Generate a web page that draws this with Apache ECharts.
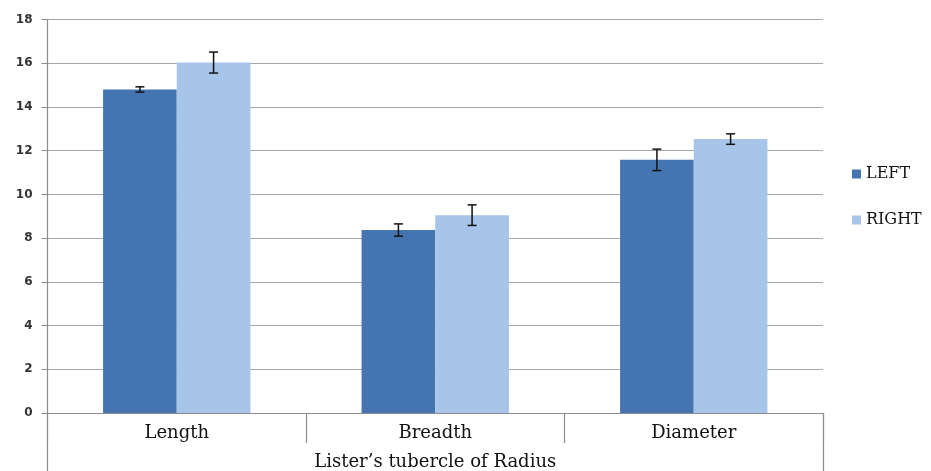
<!DOCTYPE html>
<html><head><meta charset="utf-8">
<script src="https://cdn.jsdelivr.net/npm/echarts@6/dist/echarts.min.js"></script>
<style>html,body{margin:0;padding:0;background:#fff}#c{width:931px;height:471px}</style>
</head><body><div id="c"></div>
<script>
const categories = ['Length', 'Breadth', 'Diameter'];
const groupLabel = ['Lister\u2019s tubercle of Radius'];
const leftValues = [14.8, 8.37, 11.58];
const rightValues = [16.03, 9.05, 12.53];
const leftErr = [0.12, 0.28, 0.49];
const rightErr = [0.48, 0.47, 0.24];
const yTicks = { min: 0, max: 18, interval: 2 };

const chart = echarts.init(document.getElementById('c'));
const catGap = 0.43;
function errSeries(name, vals, errs, side) {
  return {
    type: 'custom', name: name + '_err', xAxisIndex: 0, yAxisIndex: 0, z: 10,
    silent: true,
    data: vals.map((v, i) => [i, v - errs[i], v + errs[i]]),
    renderItem: function (params, api) {
      const bw = api.size([1, 0])[0];
      const barW = bw * (1 - catGap) / 2;
      const c0 = api.coord([api.value(0), api.value(1)]);
      const c1 = api.coord([api.value(0), api.value(2)]);
      const x = c0[0] + side * barW / 2;
      const hw = 4.5;
      const st = { stroke: '#111', lineWidth: 1.5 };
      return { type: 'group', children: [
        { type: 'line', shape: { x1: x, y1: c0[1], x2: x, y2: c1[1] }, style: st },
        { type: 'line', shape: { x1: x - hw, y1: c0[1], x2: x + hw, y2: c0[1] }, style: st },
        { type: 'line', shape: { x1: x - hw, y1: c1[1], x2: x + hw, y2: c1[1] }, style: st }
      ]};
    }
  };
}
const serif = '"DejaVu Serif", "Liberation Serif", serif';
chart.setOption({
  animation: false,
  grid: { left: 47.5, right: 108, top: 19.5, bottom: 58, containLabel: false },
  legend: {
    orient: 'vertical', left: 847, top: 161, itemGap: 30,
    icon: 'rect', itemWidth: 9, itemHeight: 9, itemStyle: { borderWidth: 0 },
    data: ['LEFT', 'RIGHT'],
    textStyle: { fontFamily: serif, fontSize: 16, color: '#111' }
  },
  xAxis: [
    {
      type: 'category', data: categories, position: 'bottom',
      axisLine: { show: true, lineStyle: { color: '#8c8c8c', width: 1.2 } },
      axisTick: { show: true, length: 30, lineStyle: { color: '#8c8c8c', width: 1.2 } },
      axisLabel: { fontFamily: serif, fontSize: 18, color: '#111', margin: 11 }
    },
    {
      type: 'category', data: groupLabel, position: 'bottom',
      axisLine: { show: false },
      axisTick: { show: true, length: 60, lineStyle: { color: '#8c8c8c', width: 1.2 } },
      axisLabel: { fontFamily: serif, fontSize: 18, color: '#111', margin: 40 }
    }
  ],
  yAxis: {
    type: 'value', min: yTicks.min, max: yTicks.max, interval: yTicks.interval,
    axisLine: { show: true, lineStyle: { color: '#8c8c8c', width: 1.2 } },
    axisTick: { show: true, length: 6, lineStyle: { color: '#8c8c8c' } },
    axisLabel: { fontFamily: '"DejaVu Sans", sans-serif', fontSize: 12, fontWeight: 'bold', color: '#333', margin: 15 },
    splitLine: { show: true, lineStyle: { color: '#a6a6a6', width: 1.2 } }
  },
  series: [
    { name: 'LEFT', type: 'bar', data: leftValues, barGap: '0%', barCategoryGap: (catGap * 100) + '%',
      itemStyle: { color: '#4575B1' } },
    { name: 'RIGHT', type: 'bar', data: rightValues, barGap: '0%', barCategoryGap: (catGap * 100) + '%',
      itemStyle: { color: '#A6C5E9' } },
    errSeries('LEFT', leftValues, leftErr, -1),
    errSeries('RIGHT', rightValues, rightErr, 1)
  ]
});
</script></body></html>
